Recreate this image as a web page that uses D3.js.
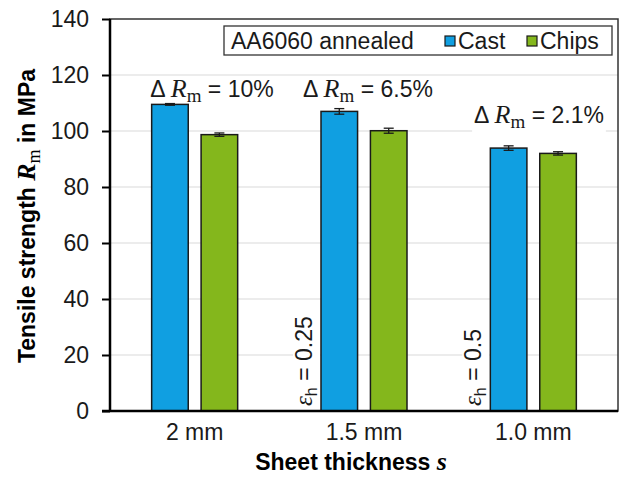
<!DOCTYPE html>
<html>
<head>
<meta charset="utf-8">
<script src="https://cdn.jsdelivr.net/npm/d3@7"></script>
<style>
  body { margin: 0; background: white; }
  text { font-family: "Liberation Sans", Arial, sans-serif; }
</style>
</head>
<body>
<div id="chart"></div>
<script>
// data
const thicknesses = ['2 mm', '1.5 mm', '1.0 mm'];
const seriesNames = ['Cast', 'Chips'];
const castValues = [109.5, 107.0, 93.9];
const castErrors = [0.3, 1.0, 0.8];
const chipsValues = [98.7, 100.1, 92.0];
const chipsErrors = [0.6, 0.9, 0.6];
const deltaLabels = ['10%', '6.5%', '2.1%'];
const strainLabels = [null, '0.25', '0.5'];
const yTicks = [0, 20, 40, 60, 80, 100, 120, 140];

const width = 621, height = 477;
const margin = {top: 19, right: 3, bottom: 66, left: 110};
const colors = {Cast: '#109fe1', Chips: '#84b71c'};
const fs = '23px';

const svg = d3.select('#chart').append('svg')
    .attr('width', width)
    .attr('height', height)
    .style('background-color', 'white');

const x = d3.scaleBand()
    .domain(thicknesses)
    .range([margin.left, width - margin.right]);

const x1 = d3.scaleBand()
    .domain(seriesNames)
    .range([0, 86])
    .paddingInner(0.26);

const y = d3.scaleLinear()
    .domain([0, 140])
    .range([height - margin.bottom, margin.top]);

// grid
svg.append('g')
    .selectAll('line')
    .data(yTicks.filter(d => d > 0 && d < 140))
    .enter()
    .append('line')
    .attr('x1', margin.left)
    .attr('x2', width - margin.right)
    .attr('y1', d => y(d))
    .attr('y2', d => y(d))
    .style('stroke', '#d9d9d9')
    .style('stroke-width', 1.2);

// layer for annotations, under the bars
const annoLayer = svg.append('g');

// frame
svg.append('rect')
    .attr('x', margin.left)
    .attr('y', margin.top)
    .attr('width', width - margin.right - margin.left)
    .attr('height', height - margin.bottom - margin.top)
    .style('fill', 'none')
    .style('stroke', '#333')
    .style('stroke-width', 1.5);

const rows = thicknesses.map((t, i) => [
    {t: t, s: 'Cast', v: castValues[i], e: castErrors[i]},
    {t: t, s: 'Chips', v: chipsValues[i], e: chipsErrors[i]}
]).flat();

const bx = d => x(d.t) + (x.bandwidth() - 86) / 2 + x1(d.s);

svg.append('g')
    .selectAll('rect')
    .data(rows)
    .enter()
    .append('rect')
    .attr('x', bx)
    .attr('y', d => y(d.v))
    .attr('width', x1.bandwidth())
    .attr('height', d => y(0) - y(d.v))
    .style('fill', d => colors[d.s])
    .style('stroke', '#1a1a1a')
    .style('stroke-width', 1.5);

// error bars
const err = svg.append('g').style('stroke', '#1a1a1a').style('stroke-width', 1.3);
rows.forEach(d => {
    const cx = bx(d) + x1.bandwidth() / 2;
    err.append('line').attr('x1', cx).attr('x2', cx).attr('y1', y(d.v + d.e)).attr('y2', y(d.v - d.e));
    err.append('line').attr('x1', cx - 5).attr('x2', cx + 5).attr('y1', y(d.v + d.e)).attr('y2', y(d.v + d.e));
    err.append('line').attr('x1', cx - 5).attr('x2', cx + 5).attr('y1', y(d.v - d.e)).attr('y2', y(d.v - d.e));
});

// axes
const yAxis = svg.append('g')
    .attr('transform', `translate(${margin.left},0)`)
    .call(d3.axisLeft(y).tickValues(yTicks).tickSize(8).tickPadding(13));
yAxis.select('.domain').remove();
yAxis.selectAll('line').style('stroke', 'black').style('stroke-width', 2);
yAxis.selectAll('text').style('font-size', fs).style('fill', '#1a1a1a')
    .style('font-family', '"Liberation Sans", Arial, sans-serif');

svg.append('line')
    .attr('x1', margin.left).attr('x2', margin.left)
    .attr('y1', margin.top).attr('y2', y(0))
    .style('stroke', 'black').style('stroke-width', 2.5);
svg.append('line')
    .attr('x1', margin.left - 8).attr('x2', width - margin.right)
    .attr('y1', y(0)).attr('y2', y(0))
    .style('stroke', 'black').style('stroke-width', 2.5);

svg.append('g')
    .selectAll('text')
    .data(thicknesses)
    .enter()
    .append('text')
    .attr('x', d => x(d) + x.bandwidth() / 2)
    .attr('y', 440)
    .attr('text-anchor', 'middle')
    .style('font-size', fs)
    .style('fill', '#1a1a1a')
    .text(d => d);

// axis titles
const xt = svg.append('text')
    .attr('x', 351)
    .attr('y', 470)
    .attr('text-anchor', 'middle')
    .style('font-size', fs)
    .style('font-weight', 'bold');
xt.append('tspan').text('Sheet thickness ');
xt.append('tspan').style('font-family', '"Liberation Serif", serif').style('font-style', 'italic')
    .style('font-size', '26px').text('s');

const yt = svg.append('text')
    .attr('transform', 'translate(35,216) rotate(-90)')
    .attr('text-anchor', 'middle')
    .style('font-size', fs)
    .style('font-weight', 'bold');
yt.append('tspan').text('Tensile strength ');
yt.append('tspan').style('font-family', '"Liberation Serif", serif').style('font-style', 'italic')
    .style('font-size', '26px').text('R');
yt.append('tspan').style('font-family', '"Liberation Serif", serif').style('font-weight', 'normal')
    .style('font-size', '18px').attr('dy', 5).text('m');
yt.append('tspan').attr('dy', -5).text(' in MPa');

// helper: text with white box behind
function boxedText(g, build) {
    const t = build(g);
    const b = t.node().getBBox();
    g.insert('rect', 'text')
        .attr('x', b.x - 2).attr('y', b.y + 3)
        .attr('width', b.width + 4).attr('height', b.height - 3)
        .style('fill', 'white');
    return t;
}

// delta labels
const deltaY = [97, 97, 123];
const deltaX = [212, 368, 539];
deltaLabels.forEach((lab, i) => {
    const g = annoLayer.append('g');
    boxedText(g, gg => {
        const t = gg.append('text')
            .attr('x', deltaX[i])
            .attr('y', deltaY[i])
            .attr('text-anchor', 'middle')
            .style('font-size', fs)
            .style('fill', '#1a1a1a');
        t.append('tspan').text('\u0394 ');
        t.append('tspan').style('font-family', '"Liberation Serif", serif').style('font-style', 'italic')
            .style('font-size', '26px').text('R');
        t.append('tspan').style('font-family', '"Liberation Serif", serif')
            .style('font-size', '19px').attr('dy', 5).text('m');
        t.append('tspan').attr('dy', -5).text(' = ' + lab);
        return t;
    });
});

// strain labels, rotated
strainLabels.forEach((lab, i) => {
    if (!lab) return;
    const barLeft = x(thicknesses[i]) + (x.bandwidth() - 86) / 2;
    const g = annoLayer.append('g').attr('transform', `translate(${barLeft - 9},${y(0) - 5}) rotate(-90)`);
    boxedText(g, gg => {
        const t = gg.append('text')
            .attr('x', 0).attr('y', 0)
            .style('font-size', fs)
            .style('fill', '#1a1a1a');
        t.append('tspan').style('font-family', '"Liberation Serif", serif').style('font-style', 'italic')
            .style('font-size', '25px').text('\u03b5');
        t.append('tspan').style('font-size', '16px').attr('dy', 5).text('h');
        t.append('tspan').attr('dy', -5).text(' = ' + lab);
        return t;
    });
});

// legend
const leg = svg.append('g');
leg.append('rect')
    .attr('x', 224).attr('y', 26)
    .attr('width', 388).attr('height', 29)
    .style('fill', 'white')
    .style('stroke', '#333')
    .style('stroke-width', 1.3);
leg.append('text')
    .attr('x', 231).attr('y', 49)
    .style('font-size', fs)
    .style('fill', '#1a1a1a')
    .text('AA6060 annealed');
const legX = [445, 527];
seriesNames.forEach((s, i) => {
    leg.append('rect')
        .attr('x', legX[i]).attr('y', 36)
        .attr('width', 10).attr('height', 10)
        .style('fill', colors[s])
        .style('stroke', '#1a1a1a')
        .style('stroke-width', 1.2);
    leg.append('text')
        .attr('x', legX[i] + 13).attr('y', 49)
        .style('font-size', fs)
        .style('fill', '#1a1a1a')
        .text(s);
});
</script>
</body>
</html>
